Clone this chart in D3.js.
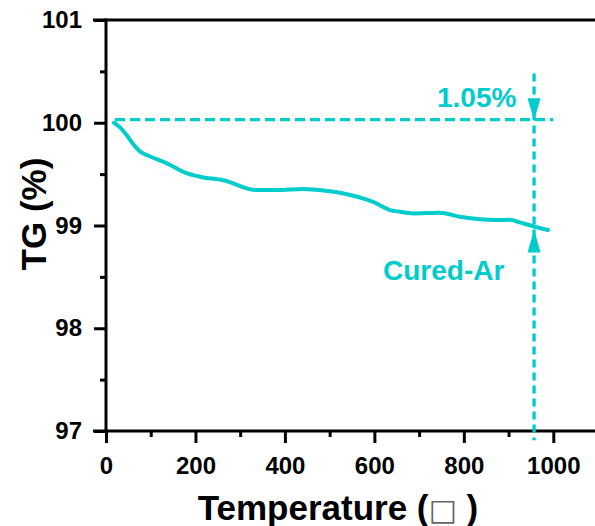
<!DOCTYPE html>
<html><head><meta charset="utf-8">
<script src="https://cdn.jsdelivr.net/npm/d3@7"></script>
<style>body{margin:0;background:#fff}svg{display:block}</style>
</head><body>
<svg id="c" width="595" height="526"></svg>
<script>
const temps = [18, 30, 46, 61, 76, 91, 136, 180, 210, 262, 337, 381, 441, 486, 553, 597, 635, 657, 687, 746, 791, 836, 873, 903, 925, 957, 988];
const tgValues = [100.0, 99.96, 99.88, 99.79, 99.72, 99.686, 99.605, 99.51, 99.475, 99.44, 99.345, 99.345, 99.355, 99.34, 99.29, 99.23, 99.15, 99.134, 99.118, 99.125, 99.085, 99.06, 99.053, 99.056, 99.03, 98.99, 98.956];
const xTicks = [0, 200, 400, 600, 800, 1000];
const xMinor = [100, 300, 500, 700, 900];
const yTicks = [97, 98, 99, 100, 101];
const yMinor = [97.5, 98.5, 99.5, 100.5];
const refLevel = 100.03, refStart = 20, refEnd = 1000;
const markT = 957, markTop = 100.48, markBottom = 96.91;
const lossLabel = "1.05%";
const seriesLabel = "Cured-Ar";
const teal = "#00cccc";
const font = "'Liberation Sans', Arial, sans-serif";

const svg = d3.select("#c");
const x = d3.scaleLinear().domain([0, 1000]).range([106, 553.3]);
const y = d3.scaleLinear().domain([97, 101]).range([431, 20]);

// frame lines
const xLeft = x(-29), xRight = 595;
svg.append("line").attr("x1", xLeft).attr("x2", xRight).attr("y1", y(97)).attr("y2", y(97)).attr("stroke", "#000").attr("stroke-width", 3);
svg.append("line").attr("x1", xLeft).attr("x2", xRight).attr("y1", y(101)).attr("y2", y(101)).attr("stroke", "#000").attr("stroke-width", 3);
svg.append("line").attr("x1", x(0)).attr("x2", x(0)).attr("y1", y(101) - 1.5).attr("y2", y(97)).attr("stroke", "#000").attr("stroke-width", 3);

// x ticks
const gx = svg.append("g").attr("transform", `translate(0,${y(97)})`);
gx.call(d3.axisBottom(x).tickValues(xTicks).tickSize(12).tickPadding(14).tickSizeOuter(0).tickFormat(d3.format("d")));
gx.select(".domain").remove();
gx.selectAll(".tick line").attr("stroke-width", 3);
gx.selectAll(".tick text").attr("font-family", font).attr("font-weight", "bold").attr("font-size", 24).attr("fill", "#000");
const gxm = svg.append("g").attr("transform", `translate(0,${y(97)})`);
gxm.call(d3.axisBottom(x).tickValues(xMinor).tickSize(6).tickFormat(""));
gxm.select(".domain").remove();
gxm.selectAll(".tick line").attr("stroke-width", 3);

// y ticks
const gy = svg.append("g").attr("transform", `translate(${x(0)},0)`);
gy.call(d3.axisLeft(y).tickValues(yTicks).tickSize(12).tickPadding(12).tickSizeOuter(0).tickFormat(d3.format("d")));
gy.select(".domain").remove();
gy.selectAll(".tick line").attr("stroke-width", 3);
gy.selectAll(".tick text").attr("font-family", font).attr("font-weight", "bold").attr("font-size", 24).attr("fill", "#000");
const gym = svg.append("g").attr("transform", `translate(${x(0)},0)`);
gym.call(d3.axisLeft(y).tickValues(yMinor).tickSize(6).tickFormat(""));
gym.select(".domain").remove();
gym.selectAll(".tick line").attr("stroke-width", 3);

// axis titles
svg.append("text").attr("transform", `translate(46,214) rotate(-90)`).attr("text-anchor", "middle")
  .attr("font-family", font).attr("font-weight", "bold").attr("font-size", 35).text("TG (%)");
const xt = svg.append("text").attr("x", 338).attr("y", 520).attr("text-anchor", "middle")
  .attr("font-family", font).attr("font-weight", "bold").attr("font-size", 35);
xt.append("tspan").text("Temperature (");
xt.append("tspan").attr("font-weight", "normal").attr("fill", "#666").attr("font-family", "'DejaVu Sans', sans-serif").attr("font-size", 30).text("\u25A1");
xt.append("tspan").text(" )");

// reference dashed lines
svg.append("line").attr("x1", x(refStart)).attr("x2", x(refEnd)).attr("y1", y(refLevel)).attr("y2", y(refLevel))
  .attr("stroke", teal).attr("stroke-width", 3.3).attr("stroke-dasharray", "10,5");
svg.append("line").attr("x1", x(markT)).attr("x2", x(markT)).attr("y1", y(markTop)).attr("y2", y(markBottom))
  .attr("stroke", teal).attr("stroke-width", 3.3).attr("stroke-dasharray", "8,5");

// curve
const line = d3.line().x((d, i) => x(temps[i])).y(d => y(d)).curve(d3.curveMonotoneX);
svg.append("path").datum(tgValues).attr("d", line).attr("fill", "none").attr("stroke", teal)
  .attr("stroke-width", 4).attr("stroke-linejoin", "round").attr("stroke-linecap", "round");

// arrows
const ax = x(markT);
const topTip = y(refLevel) + 0.5, botTip = y(tgValues[tgValues.length - 2]) + 3;
svg.append("path").attr("d", `M${ax - 6.5},${topTip - 22} L${ax + 6.5},${topTip - 22} L${ax},${topTip} Z`).attr("fill", teal);
svg.append("path").attr("d", `M${ax - 6.5},${botTip + 23} L${ax + 6.5},${botTip + 23} L${ax},${botTip} Z`).attr("fill", teal);

// labels
svg.append("text").attr("x", 437).attr("y", 107).attr("font-family", font).attr("font-weight", "bold")
  .attr("font-size", 28).attr("fill", teal).text(lossLabel);
svg.append("text").attr("x", 383).attr("y", 280).attr("font-family", font).attr("font-weight", "bold")
  .attr("font-size", 28).attr("fill", teal).text(seriesLabel);
</script>
</body></html>
